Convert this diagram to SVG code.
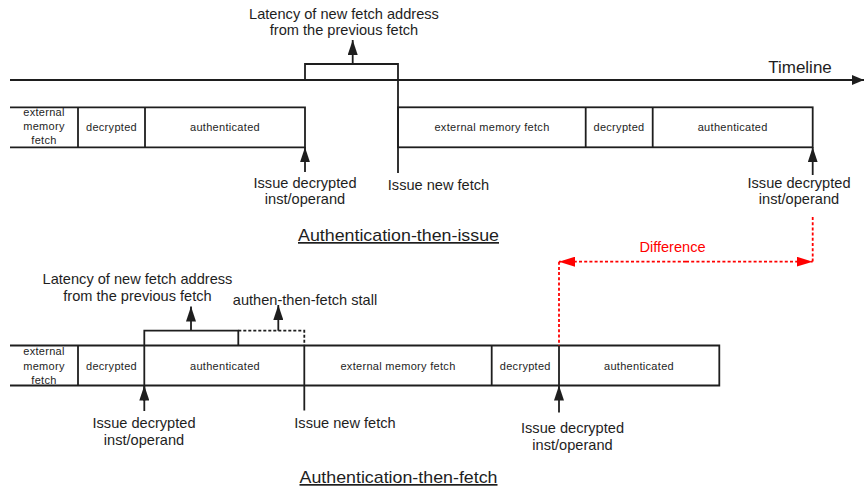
<svg xmlns="http://www.w3.org/2000/svg" width="864" height="492" viewBox="0 0 864 492">
  <style>
    .ln { stroke: #1e1e1e; stroke-width: 1.8; fill: none; }
    .dot { stroke: #1e1e1e; stroke-width: 1.8; fill: none; stroke-dasharray: 3 2; }
    .red { stroke: #ff0000; stroke-width: 1.8; fill: none; stroke-dasharray: 3 2.2; }
    text { font-family: "Liberation Sans", Arial, sans-serif; fill: #1e1e1e; text-anchor: middle; }
    .lbl { font-size: 14.6px; }
    .box { font-size: 11px; letter-spacing: 0.3px; }
    .ttl { font-size: 17px; text-decoration: underline; }
    .diff { font-size: 14.6px; fill: #ff0000; }
  </style>
  <defs>
    <marker id="up" viewBox="0 0 15 10" refX="15" refY="5" markerWidth="15" markerHeight="10" markerUnits="userSpaceOnUse" orient="auto">
      <path d="M0,0 L15,5 L0,10 z" fill="#1e1e1e"/>
    </marker>
    <marker id="tl" viewBox="0 0 12 10" refX="12" refY="5" markerWidth="12" markerHeight="10" markerUnits="userSpaceOnUse" orient="auto">
      <path d="M0,0 L12,5 L0,10 z" fill="#1e1e1e"/>
    </marker>
    <marker id="rd" viewBox="0 0 16 10" refX="16" refY="5" markerWidth="16" markerHeight="10" markerUnits="userSpaceOnUse" orient="auto">
      <path d="M0,0 L16,5 L0,10 z" fill="#ff0000"/>
    </marker>
  </defs>

  <!-- Authentication-then-issue -->
  <g id="timeline">
    <line class="ln" x1="10" y1="80" x2="864" y2="80" marker-end="url(#tl)"/>
    <text class="lbl" x="800" y="73" style="font-size:17px">Timeline</text>
  </g>

  <g id="issue-first-fetch">
    <path class="ln" d="M10,107.3 H305 V147.3 H10"/>
    <line class="ln" x1="78" y1="107.3" x2="78" y2="147.3"/>
    <line class="ln" x1="145" y1="107.3" x2="145" y2="147.3"/>
    <text class="box" x="44" y="116">external</text>
    <text class="box" x="44" y="130">memory</text>
    <text class="box" x="44" y="144">fetch</text>
    <text class="box" x="111.5" y="130.5">decrypted</text>
    <text class="box" x="225" y="130.5">authenticated</text>
  </g>

  <g id="issue-second-fetch">
    <rect class="ln" x="398" y="107.3" width="414.7" height="40"/>
    <line class="ln" x1="585.7" y1="107.3" x2="585.7" y2="147.3"/>
    <line class="ln" x1="652.7" y1="107.3" x2="652.7" y2="147.3"/>
    <text class="box" x="492" y="130.5">external memory fetch</text>
    <text class="box" x="619" y="130.5">decrypted</text>
    <text class="box" x="732.7" y="130.5">authenticated</text>
  </g>

  <g id="issue-latency-label">
    <text class="lbl" x="344" y="19">Latency of new fetch address</text>
    <text class="lbl" x="344" y="35">from the previous fetch</text>
  </g>
  <g id="issue-decrypted-1">
    <text class="lbl" x="305" y="188">Issue decrypted</text>
    <text class="lbl" x="305" y="204">inst/operand</text>
  </g>
  <g id="issue-new-fetch-1">
    <text class="lbl" x="438.5" y="190">Issue new fetch</text>
  </g>
  <g id="issue-decrypted-2">
    <text class="lbl" x="799" y="188">Issue decrypted</text>
    <text class="lbl" x="799" y="204">inst/operand</text>
  </g>
  <g id="title-issue">
    <text class="ttl" x="398.5" y="241" textLength="201" lengthAdjust="spacingAndGlyphs">Authentication-then-issue</text>
  </g>

  <g id="difference">
    <text class="diff" x="672.5" y="252">Difference</text>
  </g>

  <!-- Authentication-then-fetch -->
  <g id="fetch-row">
    <path class="ln" d="M10,345.5 H719.3 V385.5 H10"/>
    <line class="ln" x1="78" y1="345.5" x2="78" y2="385.5"/>
    <line class="ln" x1="491.7" y1="345.5" x2="491.7" y2="385.5"/>
    <line class="ln" x1="559" y1="345.5" x2="559" y2="385.5"/>
    <text class="box" x="44" y="355">external</text>
    <text class="box" x="44" y="369.5">memory</text>
    <text class="box" x="44" y="384">fetch</text>
    <text class="box" x="111.5" y="369.5">decrypted</text>
    <text class="box" x="225" y="369.5">authenticated</text>
    <text class="box" x="398" y="369.5">external memory fetch</text>
    <text class="box" x="525.3" y="369.5">decrypted</text>
    <text class="box" x="639" y="369.5">authenticated</text>
  </g>

  <g id="fetch-latency-label">
    <text class="lbl" x="137.5" y="284">Latency of new fetch address</text>
    <text class="lbl" x="137.5" y="301">from the previous fetch</text>
  </g>
  <g id="stall-label">
    <text class="lbl" x="305" y="305">authen-then-fetch stall</text>
  </g>
  <g id="fetch-decrypted-1">
    <text class="lbl" x="144" y="428">Issue decrypted</text>
    <text class="lbl" x="144" y="445">inst/operand</text>
  </g>
  <g id="fetch-new-fetch">
    <text class="lbl" x="345" y="428">Issue new fetch</text>
  </g>
  <g id="fetch-decrypted-2">
    <text class="lbl" x="572.5" y="433">Issue decrypted</text>
    <text class="lbl" x="572.5" y="450">inst/operand</text>
  </g>
  <g id="title-fetch">
    <text class="ttl" x="398.5" y="483" textLength="198" lengthAdjust="spacingAndGlyphs">Authentication-then-fetch</text>
  </g>

  <g id="connectors">
    <!-- latency bracket and new-fetch marker, upper timeline -->
    <path class="ln" d="M305,80 V64 H398 V173"/>
    <line class="ln" x1="352.7" y1="64" x2="352.7" y2="40" marker-end="url(#up)"/>
    <line class="ln" x1="305" y1="172" x2="305" y2="147.3" marker-end="url(#up)"/>
    <line class="ln" x1="812.7" y1="175" x2="812.7" y2="147.3" marker-end="url(#up)"/>

    <!-- difference span -->
    <line class="red" x1="812.7" y1="217" x2="812.7" y2="261.7"/>
    <line class="red" x1="686" y1="261.7" x2="559" y2="261.7" marker-end="url(#rd)"/>
    <line class="red" x1="686" y1="261.7" x2="812.7" y2="261.7" marker-end="url(#rd)"/>
    <line class="red" x1="559" y1="261.7" x2="559" y2="345.5"/>

    <!-- latency bracket, stall bracket and markers, lower timeline -->
    <path class="ln" d="M144.3,401 V330.7 H238.3 V345.5"/>
    <line class="ln" x1="144.3" y1="411" x2="144.3" y2="385.5" marker-end="url(#up)"/>
    <line class="ln" x1="191" y1="330.7" x2="191" y2="306.5" marker-end="url(#up)"/>
    <path class="dot" d="M238.3,330.7 H304.3 V345.5"/>
    <line class="ln" x1="278.3" y1="330.7" x2="278.3" y2="305" marker-end="url(#up)"/>
    <line class="ln" x1="304.3" y1="345.5" x2="304.3" y2="410.5"/>
    <line class="ln" x1="559" y1="412.5" x2="559" y2="385.5" marker-end="url(#up)"/>
  </g>
</svg>
